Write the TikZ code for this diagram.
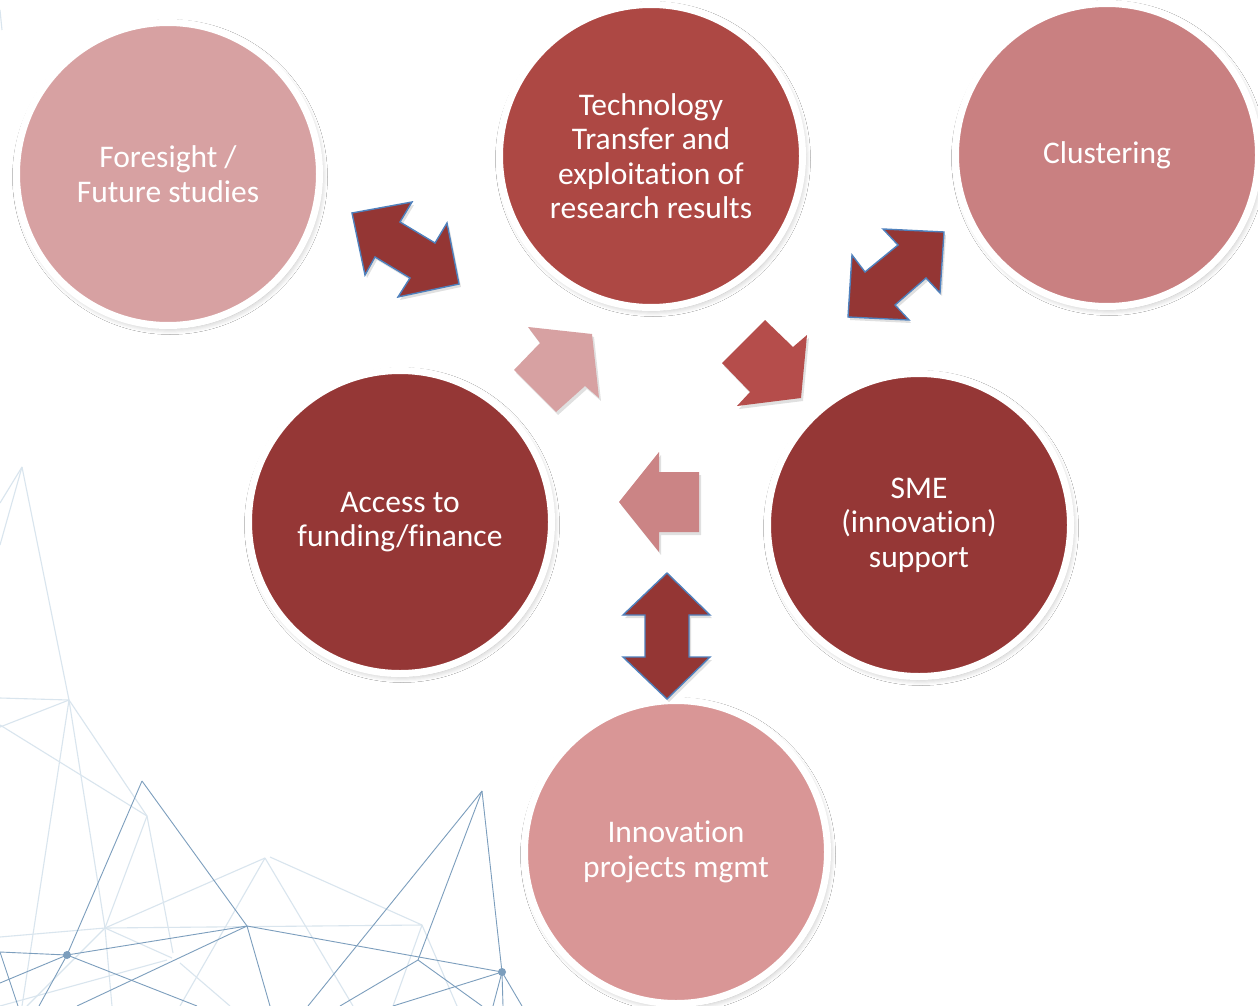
\documentclass[tikz,border=0pt]{standalone}
\usepackage{fontspec}
\setmainfont{Carlito}[Ligatures={NoCommon}]
\usetikzlibrary{shadows.blur}
\definecolor{cLight}{HTML}{D7A1A2}
\definecolor{cTech}{HTML}{AD4844}
\definecolor{cClus}{HTML}{C98081}
\definecolor{cDark}{HTML}{953736}
\definecolor{cInno}{HTML}{D99696}
\definecolor{cRedArr}{HTML}{B54D4B}
\definecolor{cLeftArr}{HTML}{CB8485}
\definecolor{cDbl}{HTML}{943634}
\definecolor{cBlue}{HTML}{4F81BD}
\definecolor{netDark}{HTML}{7C9EBD}
\definecolor{netLight}{HTML}{D9E5EE}
\tikzset{
  bubble/.style={circle, inner sep=0pt, minimum size=303pt, draw=white, line width=7pt,
    text=white, align=center, font=\fontsize{31.5}{34.5}\selectfont,
    blur shadow={shadow xshift=2pt, shadow yshift=-3pt, shadow blur steps=12, shadow blur radius=6pt, shadow opacity=28, shadow scale=1}},
  blockarr/.style={preaction={fill=black, opacity=0.12, transform canvas={shift={(2pt,-3pt)}}}},
  dblarr/.style={blockarr, fill=cDbl, draw=cBlue, line width=1.4pt, line join=miter},
  netd/.style={draw=netDark, line width=0.9pt},
  netl/.style={draw=netLight, line width=1.1pt},
}
\begin{document}
\begin{tikzpicture}[x=1pt,y=-1pt]
\useasboundingbox (0,0) rectangle (1258,1006);
\fill[white] (0,0) rectangle (1258,1006);
% background network, light lines
\coordinate (E) at (69,700);
\coordinate (T) at (22,467);
\coordinate (F) at (105,928);
\coordinate (G) at (147,816);
\coordinate (H) at (265,858);
\coordinate (J) at (422,925);
\draw[netl] (T) -- (E);
\draw[netl] (T) -- (0,503);
\draw[netl] (T) -- (0,545);
\draw[netl] (0,698) -- (E);
\draw[netl] (0,727) -- (E);
\draw[netl] (E) -- (22,1006);
\draw[netl] (E) -- (F);
\draw[netl] (E) -- (G);
\draw[netl] (0,725) -- (G);
\draw[netl] (0,937) -- (F);
\draw[netl] (F) -- (J);
\draw[netl] (F) -- (H);
\draw[netl] (F) -- (G);
\draw[netl] (G) -- (173,953);
\draw[netl] (F) -- (112,1006);
\draw[netl] (F) -- (27,1006);
\draw[netl] (F) -- (172,958);
\draw[netl] (180,963) -- (230,1006);
\draw[netl] (H) -- (180,1006);
\draw[netl] (H) -- (353,1006);
\draw[netl] (270,857) -- (J);
\draw[netl] (J) -- (393,1006);
\draw[netl] (J) -- (457,1006);
\draw[netl] (0,1006) -- (167,960);
\draw[netl] (0,10) -- (2,30);
% background network, dark lines
\coordinate (A) at (142,781);
\coordinate (B) at (247,926);
\coordinate (C) at (482,791);
\coordinate (D1) at (67,955);
\coordinate (D2) at (502,972);
\coordinate (K) at (418,960);
\draw[netd] (A) -- (D1) -- (39,1006);
\draw[netd] (A) -- (B) -- (270,1006);
\draw[netd] (D1) -- (B) -- (D2);
\draw[netd] (0,952) -- (D1) -- (197,1006);
\draw[netd] (0,983) -- (D1);
\draw[netd] (0,952) -- (18,1006);
\draw[netd] (B) -- (77,1006);
\draw[netd] (C) -- (308,1006);
\draw[netd] (C) -- (K) -- (340,1006);
\draw[netd] (K) -- (482,1006);
\draw[netd] (C) -- (D2);
\draw[netd] (D2) -- (393,1006);
\draw[netd] (D2) -- (493,1006);
\draw[netd] (D2) -- (503,1006);
\draw[netd] (D2) -- (522,1006);
\fill[netDark] (D1) circle (4pt);
\fill[netDark] (D2) circle (4pt);
% circles
\node[bubble, fill=cLight] (fore) at (168,174) {Foresight /\\Future studies};
\node[bubble, fill=cTech] (tech) at (651,156) {Technology\\Transfer and\\exploitation of\\research results};
\node[bubble, fill=cClus] (clus) at (1107,155) {Clustering};
\node[bubble, fill=cDark] (acc) at (400,522) {Access to\\funding/finance};
\node[bubble, fill=cDark] (sme) at (919,525) {SME\\(innovation)\\support};
\node[bubble, fill=cInno] (inno) at (676,852) {Innovation\\projects mgmt};
% block arrows
\path[dblarr] (352,213) -- (412,202) -- (400,222) -- (435,243) -- (447,223) -- (459,284)
  -- (398,297) -- (410,278) -- (375,257) -- (365,275) -- cycle;
\path[dblarr] (944,232) -- (883,229) -- (898,245) -- (865,272) -- (852,255) -- (848,317)
  -- (909,320) -- (895,305) -- (926,278) -- (940,293) -- cycle;
\path[dblarr] (667,573) -- (710,615) -- (689,615) -- (689,657) -- (710,657) -- (667,699)
  -- (623,657) -- (645,657) -- (645,615) -- (623,615) -- cycle;
\path[blockarr, fill=cLight] (592,334) -- (528,327) -- (540,343) -- (514,370) -- (556,412)
  -- (585,386) -- (599,398) -- cycle;
\path[blockarr, fill=cRedArr] (765,320) -- (793,347) -- (807,335) -- (801,398) -- (737,406)
  -- (750,392) -- (722,363) -- cycle;
\path[blockarr, fill=cLeftArr] (619,502) -- (659,452) -- (659,472) -- (699,472) -- (699,532)
  -- (659,532) -- (659,552) -- cycle;
\end{tikzpicture}
\end{document}
